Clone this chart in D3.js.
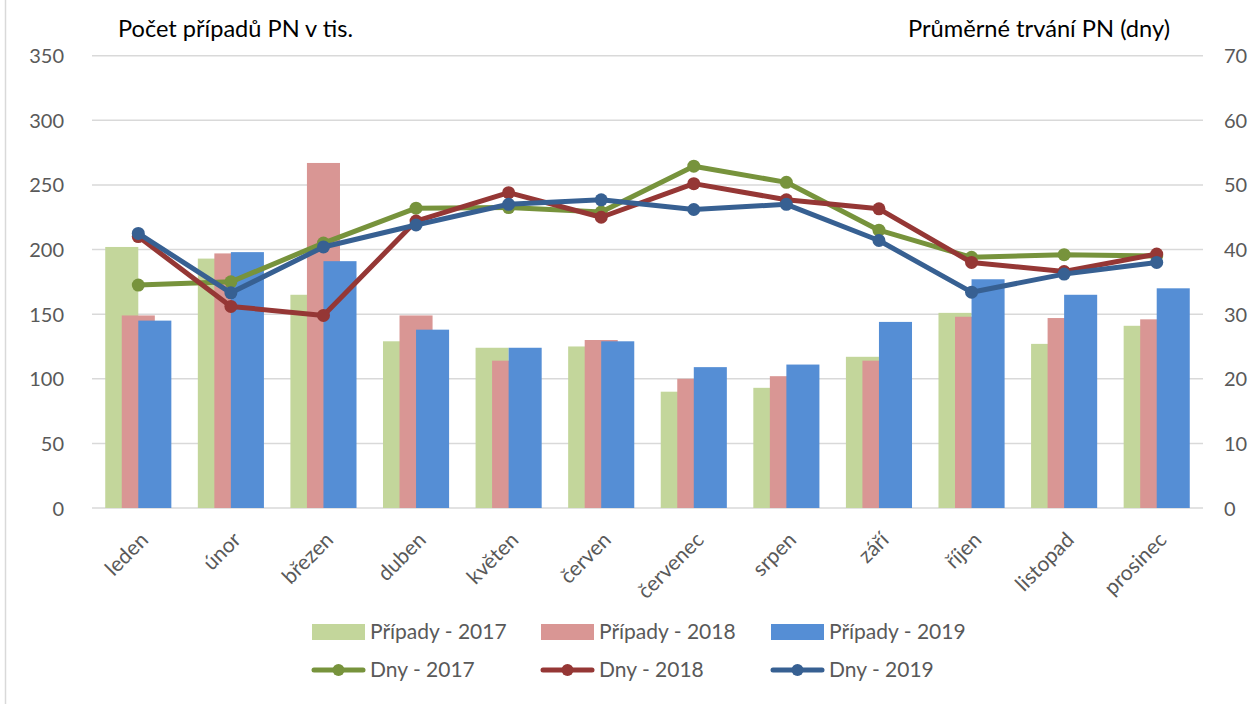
<!DOCTYPE html>
<html><head><meta charset="utf-8">
<script src="https://cdn.jsdelivr.net/npm/d3@7"></script>
<style>
html,body{margin:0;padding:0;background:#fff;}
svg{display:block;}
text{font-family:Lato,"Open Sans",sans-serif;}
</style></head>
<body>
<svg id="c" width="1253" height="704"></svg>
<script>
const months = ["leden","únor","březen","duben","květen","červen","červenec","srpen","září","říjen","listopad","prosinec"];
const pripady2017 = [202,193,165,129,124,125,90,93,117,151,127,141];
const pripady2018 = [149,197,267,149,114,130,100,102,114,148,147,146];
const pripady2019 = [145,198,191,138,124,129,109,111,144,177,165,170];
const dny2017 = [34.5,35.0,41.0,46.4,46.5,45.8,52.9,50.4,43.0,38.8,39.2,39.0];
const dny2018 = [42.0,31.2,29.8,44.4,48.8,45.0,50.2,47.7,46.3,38.0,36.6,39.3];
const dny2019 = [42.5,33.3,40.4,43.8,47.0,47.7,46.2,47.0,41.4,33.4,36.2,38.0];
const leftTicks = [0,50,100,150,200,250,300,350];
const rightTicks = [0,10,20,30,40,50,60,70];
const leftTitle = "Počet případů PN v tis.";
const rightTitle = "Průměrné trvání PN (dny)";

const barSeries = [
  {name:"Případy - 2017", values:pripady2017, color:"#C3D69B"},
  {name:"Případy - 2018", values:pripady2018, color:"#D99694"},
  {name:"Případy - 2019", values:pripady2019, color:"#558ED5"}
];
const lineSeries = [
  {name:"Dny - 2017", values:dny2017, color:"#77933C"},
  {name:"Dny - 2018", values:dny2018, color:"#953735"},
  {name:"Dny - 2019", values:dny2019, color:"#376092"}
];

const svg = d3.select("#c");
const L = 92, R = 1203, T = 55.7, B = 508;

// frame line on the left
svg.append("line").attr("x1",5.5).attr("x2",5.5).attr("y1",0).attr("y2",704)
  .attr("stroke","#d9d9d9").attr("stroke-width",1.5);

const x = d3.scaleBand().domain(months).range([L,R]).paddingInner(0).paddingOuter(0);
const yL = d3.scaleLinear().domain([0,350]).range([B,T]);
const yR = d3.scaleLinear().domain([0,70]).range([B,T]);

// gridlines
svg.append("g").selectAll("line").data(leftTicks).join("line")
  .attr("x1",L).attr("x2",R).attr("y1",d=>yL(d)).attr("y2",d=>yL(d))
  .attr("stroke","#d9d9d9").attr("stroke-width",1.5);

// axis labels
const axL = d3.axisLeft(yL).tickValues(leftTicks).tickSize(0).tickPadding(0);
const gL = svg.append("g").attr("transform",`translate(${64},0)`).call(axL);
gL.select(".domain").remove();
gL.selectAll("text").attr("fill","#595959").attr("font-size",20).attr("font-family","Lato,sans-serif").attr("dy","0.35em");

const axR = d3.axisRight(yR).tickValues(rightTicks).tickSize(0).tickPadding(0);
const gR = svg.append("g").attr("transform",`translate(${1224},0)`).call(axR);
gR.select(".domain").remove();
gR.selectAll("text").attr("fill","#595959").attr("font-size",20).attr("font-family","Lato,sans-serif").attr("dy","0.35em");

// bars (overlapping, each shifted by half a bar width)
const bw = x.bandwidth()*0.357;
const off = bw/2;
const cx = j => x(months[j]) + x.bandwidth()/2;
barSeries.forEach((s,i)=>{
  svg.append("g").selectAll("rect").data(s.values).join("rect")
    .attr("x",(d,j)=> cx(j) - bw + i*off)
    .attr("y",d=>yL(d)).attr("width",bw).attr("height",d=>B-yL(d))
    .attr("fill",s.color);
});

// lines
lineSeries.forEach(s=>{
  const line = d3.line().x((d,j)=>cx(j)).y(d=>yR(d));
  svg.append("path").datum(s.values).attr("d",line).attr("fill","none")
    .attr("stroke",s.color).attr("stroke-width",5).attr("stroke-linejoin","round").attr("stroke-linecap","round");
  svg.append("g").selectAll("circle").data(s.values).join("circle")
    .attr("cx",(d,j)=>cx(j)).attr("cy",d=>yR(d)).attr("r",6.5).attr("fill",s.color);
});

// category labels
svg.append("g").selectAll("text").data(months).join("text")
  .attr("transform",d=>`translate(${x(d)+x.bandwidth()/2+6},${536}) rotate(-45)`)
  .attr("text-anchor","end").attr("dy","0.35em")
  .attr("fill","#595959").attr("font-size",21).text(d=>d);

// axis titles
svg.append("text").attr("x",118).attr("y",37).attr("font-size",24)
  .attr("font-family","'Liberation Sans Narrow','Arial Narrow','Liberation Sans',sans-serif")
  .attr("textLength",235).attr("lengthAdjust","spacingAndGlyphs")
  .attr("fill","#000").text(leftTitle);
svg.append("text").attr("x",908).attr("y",37).attr("font-size",24)
  .attr("font-family","'Liberation Sans Narrow','Arial Narrow','Liberation Sans',sans-serif")
  .attr("textLength",262).attr("lengthAdjust","spacingAndGlyphs")
  .attr("fill","#000").text(rightTitle);

// legend
const legX = [312,541,771];
const lg = svg.append("g");
barSeries.forEach((s,i)=>{
  lg.append("rect").attr("x",legX[i]).attr("y",624).attr("width",53).attr("height",16).attr("fill",s.color);
  lg.append("text").attr("x",legX[i]+58).attr("y",632).attr("dy","0.35em")
    .attr("font-size",21).attr("fill","#595959").text(s.name);
});
lineSeries.forEach((s,i)=>{
  lg.append("line").attr("x1",legX[i]+2).attr("x2",legX[i]+51).attr("y1",670).attr("y2",670)
    .attr("stroke",s.color).attr("stroke-width",5).attr("stroke-linecap","round");
  lg.append("circle").attr("cx",legX[i]+26.5).attr("cy",670).attr("r",6).attr("fill",s.color);
  lg.append("text").attr("x",legX[i]+58).attr("y",670).attr("dy","0.35em")
    .attr("font-size",21).attr("fill","#595959").text(s.name);
});
</script>
</body></html>
